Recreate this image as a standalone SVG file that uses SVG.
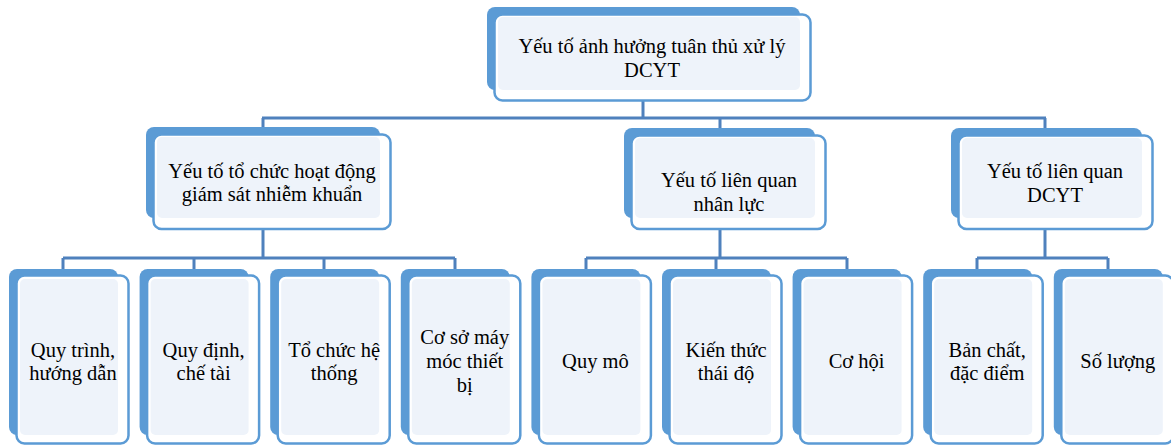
<svg xmlns="http://www.w3.org/2000/svg" width="1171" height="446" viewBox="0 0 1171 446">
<style>
.back{fill:#5b9bd5}
.front{fill:#ffffff;stroke:#5b9bd5;stroke-width:2.5}
.light{fill:#eef3fa}
.conn{fill:none;stroke:#4f81bd;stroke-width:3}
text{font-family:"Liberation Serif","Times New Roman",serif;font-size:20.5px;fill:#000;text-anchor:middle}
</style>
<rect width="1171" height="446" fill="#ffffff"/>
<g id="connectors">
<path class="conn" d="M643 92V118M262 118H1046M263 118V128M720 118V129M1045 118V129"/>
<path class="conn" d="M263 220V258M63 258H455M63 258V270M194 258V270M324 258V270M455 258V270"/>
<path class="conn" d="M720 220V258M586 258H847M586 258V270M716 258V270M847 258V270"/>
<path class="conn" d="M1045 220V258M977 258H1108M977 258V270M1108 258V270"/>
</g>
<g id="n-top">
<rect class="back" x="487" y="7" width="313" height="83" rx="8"/>
<rect class="front" x="494.5" y="14.5" width="316" height="86" rx="8"/>
<rect class="light" x="498" y="17" width="302" height="73" rx="5"/>
<text x="652" y="53">Yếu tố ảnh hưởng tuân thủ xử lý</text>
<text x="652" y="77">DCYT</text>
</g>
<g id="n-org">
<rect class="back" x="146" y="127" width="234" height="91" rx="8"/>
<rect class="front" x="153.5" y="134.5" width="237" height="94.5" rx="8"/>
<rect class="light" x="157" y="137" width="223" height="81" rx="5"/>
<text x="272" y="178">Yếu tố tổ chức hoạt động</text>
<text x="272" y="201">giám sát nhiễm khuẩn</text>
</g>
<g id="n-hr">
<rect class="back" x="624" y="128" width="191" height="90" rx="8"/>
<rect class="front" x="631.5" y="135.5" width="194" height="93.5" rx="8"/>
<rect class="light" x="635" y="138" width="180" height="80" rx="5"/>
<text x="729" y="187">Yếu tố liên quan</text>
<text x="729" y="211">nhân lực</text>
</g>
<g id="n-dcyt">
<rect class="back" x="951" y="128" width="191" height="90" rx="8"/>
<rect class="front" x="958.5" y="135.5" width="194" height="93.5" rx="8"/>
<rect class="light" x="962" y="138" width="180" height="80" rx="5"/>
<text x="1055" y="178">Yếu tố liên quan</text>
<text x="1055" y="202">DCYT</text>
</g>
<g id="l1">
<rect class="back" x="9" y="269" width="109" height="166" rx="8"/>
<rect class="front" x="16.5" y="275.5" width="112" height="168" rx="8"/>
<rect class="light" x="20" y="279" width="98" height="156" rx="5"/>
<text x="73" y="357">Quy trình,</text>
<text x="73" y="380">hướng dẫn</text>
</g>
<g id="l2">
<rect class="back" x="139.6" y="269" width="109" height="166" rx="8"/>
<rect class="front" x="147.1" y="275.5" width="112" height="168" rx="8"/>
<rect class="light" x="150.6" y="279" width="98" height="156" rx="5"/>
<text x="203.6" y="357">Quy định,</text>
<text x="203.6" y="380">chế tài</text>
</g>
<g id="l3">
<rect class="back" x="270.2" y="269" width="109" height="166" rx="8"/>
<rect class="front" x="277.7" y="275.5" width="112" height="168" rx="8"/>
<rect class="light" x="281.2" y="279" width="98" height="156" rx="5"/>
<text x="334.2" y="357">Tổ chức hệ</text>
<text x="334.2" y="380">thống</text>
</g>
<g id="l4">
<rect class="back" x="400.8" y="269" width="109" height="166" rx="8"/>
<rect class="front" x="408.3" y="275.5" width="112" height="168" rx="8"/>
<rect class="light" x="411.8" y="279" width="98" height="156" rx="5"/>
<text x="464.8" y="344">Cơ sở máy</text>
<text x="464.8" y="368">móc thiết</text>
<text x="464.8" y="392">bị</text>
</g>
<g id="l5">
<rect class="back" x="531.4" y="269" width="109" height="166" rx="8"/>
<rect class="front" x="538.9" y="275.5" width="112" height="168" rx="8"/>
<rect class="light" x="542.4" y="279" width="98" height="156" rx="5"/>
<text x="595.4" y="368">Quy mô</text>
</g>
<g id="l6">
<rect class="back" x="662" y="269" width="109" height="166" rx="8"/>
<rect class="front" x="669.5" y="275.5" width="112" height="168" rx="8"/>
<rect class="light" x="673" y="279" width="98" height="156" rx="5"/>
<text x="726" y="357">Kiến thức</text>
<text x="726" y="380">thái độ</text>
</g>
<g id="l7">
<rect class="back" x="792.6" y="269" width="109" height="166" rx="8"/>
<rect class="front" x="800.1" y="275.5" width="112" height="168" rx="8"/>
<rect class="light" x="803.6" y="279" width="98" height="156" rx="5"/>
<text x="856.6" y="368">Cơ hội</text>
</g>
<g id="l8">
<rect class="back" x="923.2" y="269" width="109" height="166" rx="8"/>
<rect class="front" x="930.7" y="275.5" width="112" height="168" rx="8"/>
<rect class="light" x="934.2" y="279" width="98" height="156" rx="5"/>
<text x="987.2" y="357">Bản chất,</text>
<text x="987.2" y="380">đặc điểm</text>
</g>
<g id="l9">
<rect class="back" x="1053.8" y="269" width="109" height="166" rx="8"/>
<rect class="front" x="1061.3" y="275.5" width="112" height="168" rx="8"/>
<rect class="light" x="1064.8" y="279" width="98" height="156" rx="5"/>
<text x="1117.8" y="368">Số lượng</text>
</g>
</svg>
